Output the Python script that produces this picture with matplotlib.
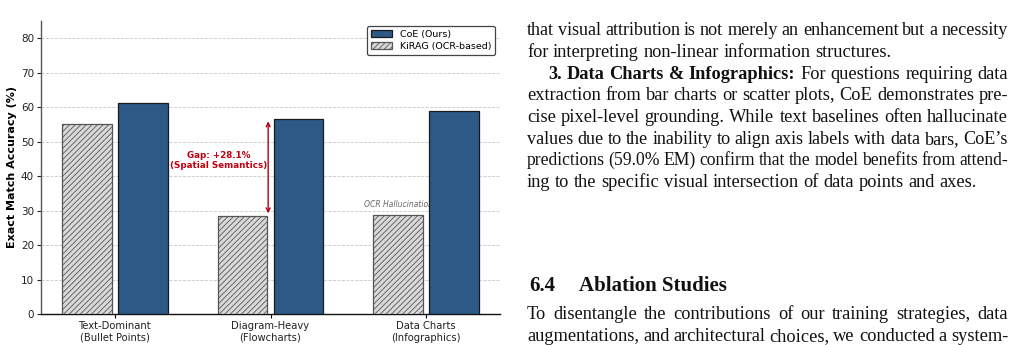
import matplotlib
matplotlib.use("Agg")
import matplotlib.pyplot as plt
import numpy as np
from matplotlib.patches import Patch

# ---------------- data ----------------
categories = ["Text-Dominant\n(Bullet Points)", "Diagram-Heavy\n(Flowcharts)", "Data Charts\n(Infographics)"]
coe_values = [61.2, 56.5, 59.0]
kirag_values = [55.1, 28.4, 28.7]
series_labels = ["CoE (Ours)", "KiRAG (OCR-based)"]
y_ticks = [0, 10, 20, 30, 40, 50, 60, 70, 80]
y_label = "Exact Match Accuracy (%)"
gap_text = "Gap: +28.1%\n(Spatial Semantics)"
halluc_text = "OCR Hallucination"

para_lines = [
    [("that visual attribution is not merely an enhancement but a necessity", "normal")],
    [("for interpreting non-linear information structures.", "normal")],
    [("3. Data Charts & Infographics:", "bold"), ("For questions requiring data", "normal")],
    [("extraction from bar charts or scatter plots, CoE demonstrates pre-", "normal")],
    [("cise pixel-level grounding. While text baselines often hallucinate", "normal")],
    [("values due to the inability to align axis labels with data bars, CoE\u2019s", "normal")],
    [("predictions (59.0% EM) confirm that the model benefits from attend-", "normal")],
    [("ing to the specific visual intersection of data points and axes.", "normal")],
]
para_justify = [True, False, True, True, True, True, True, False]
heading_text = ("6.4", "Ablation Studies")
para2_lines = [
    [("To disentangle the contributions of our training strategies, data", "normal")],
    [("augmentations, and architectural choices, we conducted a system-", "normal")],
]

# ---------------- figure ----------------
W, H = 1018, 345
fig = plt.figure(figsize=(W / 100, H / 100), dpi=100)
ax = fig.add_axes([41 / W, 1 - 314 / H, (500 - 41) / W, (314 - 21) / H])

coe_color = "#2c5985"
kirag_color = "#d9d9d9"
x = np.arange(len(categories))
w = 0.32
off = 0.18

ax.bar(x + off, coe_values, w, color=coe_color, edgecolor="#1a1a1a", linewidth=0.9, zorder=3,
       label=series_labels[0])
plt.rcParams["hatch.linewidth"] = 0.6
ax.bar(x - off, kirag_values, w, color=kirag_color, edgecolor="#555555", linewidth=0.9,
       hatch="//////", zorder=3, label=series_labels[1])

ax.set_ylim(0, 85)
ax.set_yticks(y_ticks)
ax.set_xticks(x)
ax.set_xticklabels(categories, fontsize=7.2, color="#222222")
ax.tick_params(axis="y", labelsize=7.5, length=3, width=0.8, colors="#222222", pad=2)
ax.tick_params(axis="x", length=3, width=0.8, pad=2)
ax.set_ylabel(y_label, fontsize=8, fontweight="bold", labelpad=3)
ax.grid(axis="y", linestyle="--", color="#c8c8c8", linewidth=0.6, zorder=0)
ax.set_axisbelow(True)
for s in ["top", "right"]:
    ax.spines[s].set_visible(False)
ax.spines["left"].set_color("#555555")
ax.spines["left"].set_linewidth(1.0)
ax.spines["bottom"].set_color("#111111")
ax.spines["bottom"].set_linewidth(1.0)

# gap annotation
ax_x = 1 - off + w / 2 + 0.005
ax.annotate("", xy=(ax_x, coe_values[1] - 0.6), xytext=(ax_x, kirag_values[1] + 0.8),
            arrowprops=dict(arrowstyle="<->", color="#b00010", lw=1.0, shrinkA=0, shrinkB=0,
                            mutation_scale=7), zorder=5)
ax.text(ax_x - 0.005, (coe_values[1] + kirag_values[1]) / 2 + 2.1, gap_text, ha="right", va="center",
        multialignment="center", fontsize=6.3, fontweight="bold", color="#c00010", zorder=5)
ax.text(2 - off, kirag_values[2] + 3.2, halluc_text, ha="center", va="center", fontsize=5.5,
        style="italic", color="#666666", zorder=2)

handles = [Patch(facecolor=coe_color, edgecolor="#1a1a1a", linewidth=0.9),
           Patch(facecolor=kirag_color, edgecolor="#555555", hatch="//////", linewidth=0.9)]
leg = ax.legend(handles, series_labels, loc="upper right", fontsize=6.8, frameon=True,
                bbox_to_anchor=(1.0, 1.0), borderpad=0.45, handlelength=2.2, handleheight=0.8,
                labelspacing=0.3, handletextpad=0.8, fancybox=True, edgecolor="#444444", framealpha=1)
leg.get_frame().set_linewidth(0.9)

# ---------------- right column text ----------------
renderer = fig.canvas.get_renderer()
serif = "Liberation Serif"
fs = 13.2
X0, X1 = 527, 1008
MIN_GAP = 3.5


def word_tokens(line):
    toks = []
    for seg, wt in line:
        for wd in seg.split(" "):
            toks.append((wd, wt))
    return toks


def text_width(s, size, wt="normal"):
    t = fig.text(0, 0, s, fontsize=size, family=serif, fontweight=wt)
    wd = t.get_window_extent(renderer).width
    t.remove()
    return wd


def draw_line(line, y, justify, x0=X0, x1=X1, size=fs):
    toks = word_tokens(line)
    # shrink the font for over-full lines so that words keep a visible gap
    while True:
        widths = [text_width(wd, size, wt) for wd, wt in toks]
        if not justify or len(toks) < 2:
            break
        gap = (x1 - x0 - sum(widths)) / (len(toks) - 1)
        if gap >= MIN_GAP or size < 10:
            break
        size -= 0.1
    sp_w = text_width("a a", size) - 2 * text_width("a", size)
    if justify and len(toks) > 1:
        gap = (x1 - x0 - sum(widths)) / (len(toks) - 1)
    else:
        gap = sp_w
    cx = x0
    for (wd, wt), wdt in zip(toks, widths):
        fig.text(cx / W, 1 - y / H, wd, fontsize=size, family=serif, fontweight=wt,
                 va="baseline", ha="left", color="#111111")
        cx += wdt + gap


baselines = [35, 57, 79, 100, 122, 144, 165, 187]
for i, (line, j) in enumerate(zip(para_lines, para_justify)):
    x0 = X0 + 21 if i == 2 else X0
    draw_line(line, baselines[i], j, x0=x0)

fig.text(529 / W, 1 - 291 / H, heading_text[0], fontsize=15, family=serif, fontweight="bold",
         va="baseline", ha="left", color="#111111")
fig.text(579 / W, 1 - 291 / H, heading_text[1], fontsize=15, family=serif, fontweight="bold",
         va="baseline", ha="left", color="#111111")
draw_line(para2_lines[0], 319, True)
draw_line(para2_lines[1], 341, True)

fig.savefig("out.png", dpi=100)
